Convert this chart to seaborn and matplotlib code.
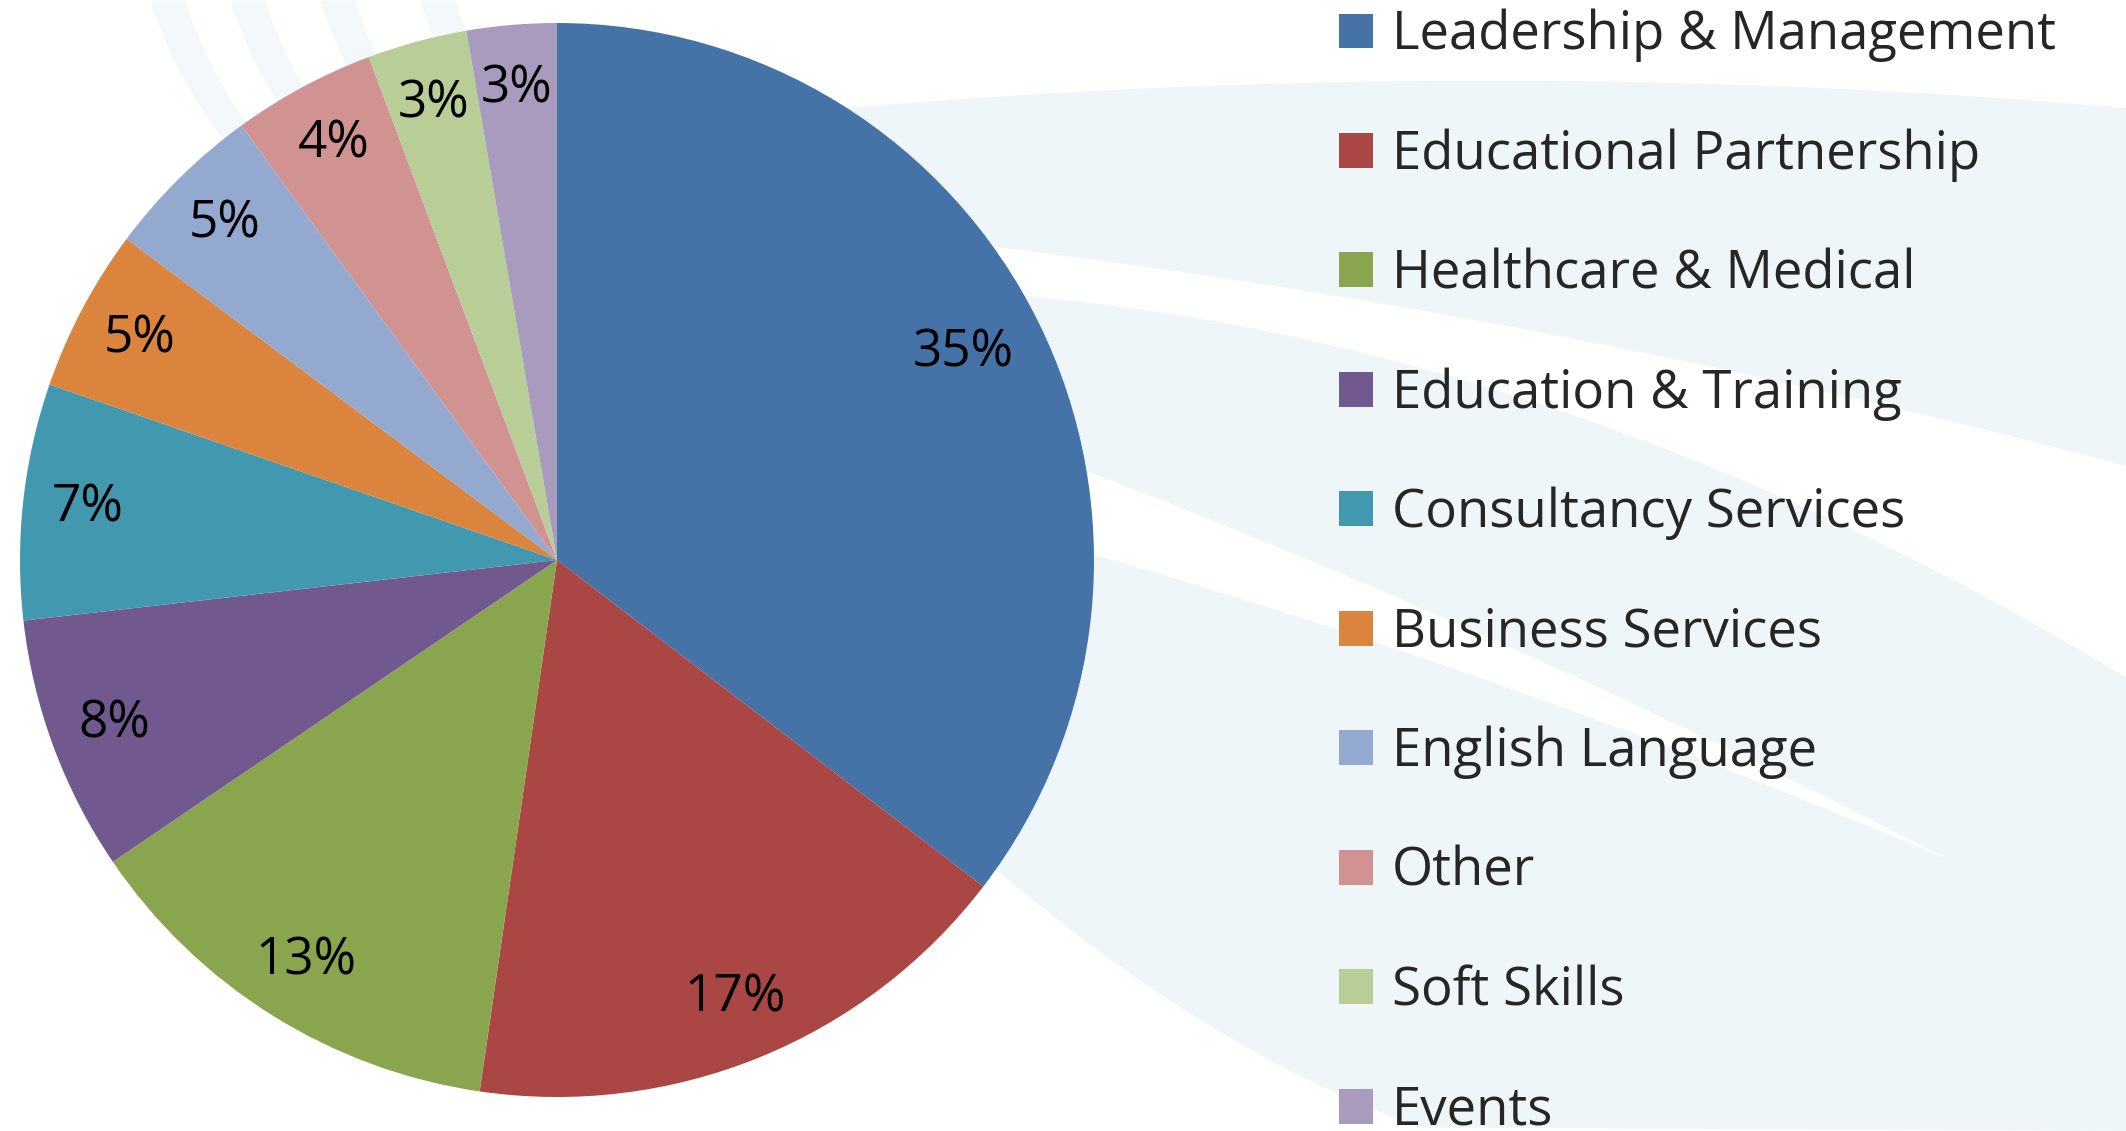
import numpy as np
import matplotlib
matplotlib.use("Agg")
import matplotlib.pyplot as plt
import seaborn as sns

categories = [
    "Leadership & Management",
    "Educational Partnership",
    "Healthcare & Medical",
    "Education & Training",
    "Consultancy Services",
    "Business Services",
    "English Language",
    "Other",
    "Soft Skills",
    "Events",
]
shares = [35.4, 16.9, 13.2, 7.7, 7.1, 4.9, 4.8, 4.3, 3.0, 2.7]
colors = ["#4572A7", "#AA4643", "#89A54E", "#71588F", "#4198AF",
          "#DB843D", "#93A9CF", "#D19392", "#B9CD96", "#A99BBD"]

sns.set_theme(style="white")
plt.rcParams["font.family"] = ["Open Sans", "DejaVu Sans"]

W, H = 2126, 1131
fig = plt.figure(figsize=(W / 100, H / 100), dpi=100)
fig.patch.set_facecolor("white")

# decorative background swooshes (pixel coordinates, y down)
bg = fig.add_axes([0, 0, 1, 1], zorder=0)
bg.set_xlim(0, W)
bg.set_ylim(H, 0)
bg.axis("off")
light = "#EFF6F9"


def edge(pts, xs):
    px, py = zip(*pts)
    return np.polyval(np.polyfit(px, py, 2), xs)


xt = np.linspace(760, W, 200)
top = edge([(849, 108), (1300, 83), (2126, 108)], xt)
xb = np.linspace(1420, 900, 100)
bot = edge([(990, 860), (1100, 960), (1300, 1068), (1420, 1131)], xb)
poly_x = np.concatenate([xt, [W, W], xb, [760]])
poly_y = np.concatenate([top, [top[-1], H], bot, [top[0]]])
bg.fill(poly_x, poly_y, color=light, lw=0)

xs = np.linspace(900, W, 200)
s1_top = edge([(1100, 263), (1300, 285), (1950, 426), (2126, 462)], xs)
s1_bot = edge([(1100, 303), (1300, 339), (1950, 577), (2126, 678)], xs)
bg.fill_between(xs, s1_top, s1_bot, color="white", lw=0)

xs2 = np.linspace(950, 1950, 200)
s2_top = edge([(1100, 476), (1300, 556), (1950, 860)], xs2)
width = np.clip(80 * (1950 - xs2) / 850, 0, None)
bg.fill_between(xs2, s2_top, s2_top + width, color="white", lw=0)

# faint curved streaks above the pie
yy = np.linspace(0, 280, 60)
for x0 in [150, 230, 320, 420]:
    left = x0 + 0.0016 * yy ** 2 + 0.3 * yy
    bg.fill_betweenx(yy, left, left + 35, color=light, alpha=0.7, lw=0)

# pie
cx, cy, r = 557, 560, 537
ax = fig.add_axes([(cx - r) / W, 1 - (cy + r) / H, 2 * r / W, 2 * r / H], zorder=1)
ax.patch.set_alpha(0)
wedges, texts, autotexts = ax.pie(
    shares,
    colors=colors,
    startangle=90,
    counterclock=False,
    autopct="%.0f%%",
    pctdistance=0.88,
    wedgeprops=dict(linewidth=0),
    textprops=dict(fontsize=37, color="black"),
)
autotexts[0].set_position((0.85 * np.cos(np.radians(27)), 0.85 * np.sin(np.radians(27))))
ax.set_xlim(-1, 1)
ax.set_ylim(-1, 1)
ax.axis("off")

leg = fig.legend(
    wedges,
    categories,
    loc="upper left",
    bbox_to_anchor=(1339 / W, 1 - 9 / H),
    frameon=False,
    fontsize=38,
    handlelength=0.64,
    handleheight=0.64,
    handletextpad=0.36,
    labelspacing=1.25,
    borderpad=0,
    borderaxespad=0,
)
leg.set_zorder(2)

fig.savefig("out.png", dpi=100, facecolor="white")
